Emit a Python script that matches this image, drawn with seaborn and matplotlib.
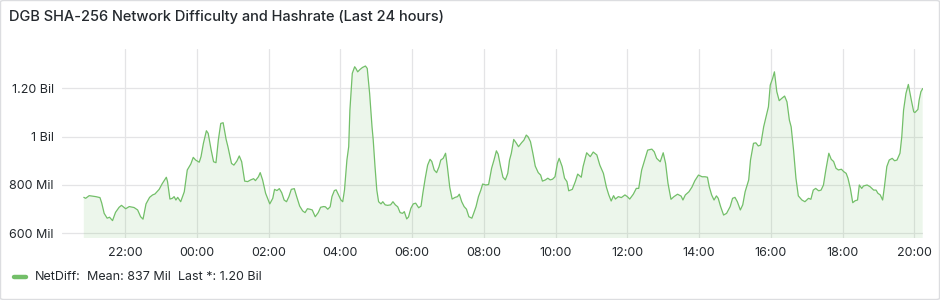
import matplotlib
matplotlib.use("Agg")
import matplotlib.pyplot as plt
import matplotlib.dates as mdates
from matplotlib.patches import FancyBboxPatch
from matplotlib.lines import Line2D
import seaborn as sns
import pandas as pd
import numpy as np

TITLE = "DGB SHA-256 Network Difficulty and Hashrate (Last 24 hours)"
SERIES = "NetDiff"

clock = [
    "20:51", "20:54", "21:00", "21:05", "21:11", "21:18", "21:21", "21:25", "21:30", "21:34",
    "21:39", "21:44", "21:50", "21:54", "22:01", "22:07", "22:15", "22:21", "22:26", "22:30",
    "22:35", "22:41", "22:46", "22:50", "22:57", "23:02", "23:09", "23:11", "23:15", "23:19",
    "23:22", "23:25", "23:28", "23:33", "23:39", "23:44", "23:50", "23:54", "23:58", "00:04",
    "00:07", "00:11", "00:16", "00:19", "00:24", "00:28", "00:32", "00:36", "00:40", "00:44",
    "00:49", "00:52", "00:58", "01:02", "01:07", "01:11", "01:15", "01:20", "01:25", "01:30",
    "01:35", "01:38", "01:43", "01:46", "01:50", "01:55", "02:02", "02:07", "02:10", "02:14",
    "02:18", "02:22", "02:26", "02:30", "02:34", "02:38", "02:43", "02:47", "02:52", "02:57",
    "03:01", "03:05", "03:09", "03:13", "03:18", "03:23", "03:27", "03:32",
    "03:35", "03:39", "03:43", "03:46", "03:50", "03:53", "03:57", "04:01", "04:04", "04:07",
    "04:11", "04:14", "04:16", "04:20", "04:24", "04:26", "04:29", "04:33", "04:37", "04:42",
    "04:45", "04:49", "04:53", "04:55", "04:58", "05:01", "05:04", "05:08", "05:11", "05:15",
    "05:19", "05:24", "05:28", "05:32", "05:36", "05:40", "05:44", "05:47", "05:51", "05:54",
    "05:58", "06:02", "06:06", "06:11", "06:15", "06:18", "06:22", "06:26", "06:30", "06:33",
    "06:37", "06:41", "06:45", "06:48", "06:52",
    "06:56", "06:59", "07:03", "07:07", "07:12", "07:16", "07:19", "07:23", "07:27", "07:31",
    "07:35", "07:40", "07:43", "07:47", "07:51", "07:55", "07:58", "08:03", "08:08", "08:13",
    "08:17", "08:21", "08:24", "08:28", "08:32", "08:36", "08:40", "08:43", "08:46", "08:50",
    "08:54", "08:58", "09:03", "09:07", "09:11", "09:14", "09:18", "09:22", "09:26", "09:31",
    "09:35", "09:38", "09:43", "09:47", "09:51", "09:55", "09:59", "10:03", "10:06", "10:11",
    "10:15", "10:19", "10:22",
    "10:28", "10:33", "10:37", "10:43", "10:46", "10:52", "10:58", "11:03", "11:09", "11:14",
    "11:20", "11:25", "11:29", "11:33", "11:37", "11:40", "11:45", "11:50", "11:56", "12:00",
    "12:04", "12:10", "12:15", "12:19", "12:24", "12:29", "12:34", "12:41", "12:45", "12:49",
    "12:55", "13:00", "13:04", "13:08", "13:13", "13:18", "13:24", "13:30", "13:33", "13:37",
    "13:43", "13:48",
    "13:53", "13:59", "14:05", "14:10", "14:14", "14:17", "14:21", "14:25", "14:29", "14:32",
    "14:36", "14:41", "14:46", "14:52", "14:56", "15:00", "15:04", "15:09", "15:13", "15:17",
    "15:23", "15:26", "15:31", "15:35", "15:39", "15:43", "15:48", "15:52", "15:56", "15:59",
    "16:03", "16:06", "16:10", "16:14", "16:18", "16:23", "16:27", "16:31", "16:34", "16:38",
    "16:42", "16:46", "16:52", "16:57", "17:03", "17:07", "17:11",
    "17:15", "17:20", "17:24", "17:28", "17:32", "17:37", "17:41", "17:45", "17:49", "17:53",
    "17:58", "18:02", "18:06", "18:09", "18:13", "18:17", "18:21", "18:25", "18:28", "18:32",
    "18:35", "18:41", "18:46", "18:52", "18:56", "18:59", "19:03", "19:07", "19:10", "19:14",
    "19:18", "19:23", "19:27", "19:31", "19:36", "19:39", "19:42", "19:46", "19:50", "19:55",
    "19:59", "20:01", "20:06", "20:08", "20:11", "20:14",
]

netdiff_mil = [
    749, 745, 756, 754, 752, 748, 725, 683, 663, 667,
    653, 687, 708, 716, 702, 711, 707, 697, 669, 659,
    722, 749, 759, 763, 782, 805, 832, 814, 742, 745,
    752, 738, 749, 731, 772, 862, 887, 914, 903, 894,
    917, 972, 1024, 1013, 944, 896, 892, 986, 1054, 1057,
    988, 958, 889, 882, 899, 920, 896, 816, 814, 821,
    826, 818, 834, 851, 821, 766, 722, 745, 782, 777,
    785, 768, 738, 731, 752, 782, 785, 752, 713, 693,
    686, 702, 700, 697, 669, 686, 708, 711,
    710, 700, 710, 752, 777, 780, 759, 738, 731, 780,
    903, 958, 1109, 1261, 1288, 1281, 1267, 1277, 1285, 1291,
    1281, 1178, 1040, 986, 876, 779, 731, 722, 731, 718,
    716, 718, 731, 718, 710, 686, 683, 690, 660, 668,
    704, 722, 725, 706, 713, 766, 828, 882, 906, 897,
    862, 851, 875, 903, 910,
    931, 876, 791, 742, 749, 752, 762, 731, 711, 700,
    669, 663, 683, 711, 752, 779, 804, 800, 802, 869,
    903, 941, 927, 876, 832, 821, 848, 903, 931, 988,
    974, 958, 974, 985, 1006, 999, 979, 931, 878, 851,
    841, 816, 821, 828, 821, 824, 834, 889, 910, 876,
    828, 814, 776,
    782, 814, 845, 832, 876, 933, 917, 936, 924, 882,
    848, 791, 759, 734, 756, 742, 752, 748, 759, 752,
    742, 762, 786, 786, 862, 903, 944, 948, 937, 910,
    896, 933, 889, 807, 741, 752, 762, 754, 738, 759,
    772, 791,
    818, 841, 834, 834, 832, 793, 759, 738, 755, 745,
    711, 676, 683, 711, 745, 749, 731, 697, 718, 772,
    821, 903, 972, 974, 961, 965, 1040, 1082, 1123, 1212,
    1240, 1267, 1185, 1148, 1157, 1167, 1143, 1068, 1040, 944,
    828, 755, 738, 731, 745, 741, 779,
    786, 776, 779, 800, 862, 931, 906, 897, 869, 862,
    865, 855, 848, 828, 786, 727, 735, 738, 800, 786,
    796, 800, 793, 779, 779, 766, 759, 738, 793, 876,
    903, 910, 900, 903, 931, 999, 1109, 1178, 1215, 1150,
    1102, 1099, 1112, 1150, 1185, 1198,
]

y_ticks = [600, 800, 1000, 1200]
y_tick_labels = ["600 Mil", "800 Mil", "1 Bil", "1.20 Bil"]
legend_mean = "Mean: 837 Mil"
legend_last = "Last *: 1.20 Bil"

# build timestamps with day rollover
stamps = []
day = pd.Timestamp("2024-01-01")
prev = None
for c in clock:
    t = pd.Timestamp(f"{day.date()} {c}")
    if prev is not None and t < prev:
        day = day + pd.Timedelta(days=1)
        t = pd.Timestamp(f"{day.date()} {c}")
    stamps.append(t)
    prev = t
df = pd.DataFrame({"time": stamps, "value": netdiff_mil})

sns.set_theme(style="white")
plt.rcParams["font.family"] = ["Inter", "DejaVu Sans"]

GREEN = "#73BF69"
TEXT = "#24292E"
GRID = "#E4E4E6"

fig = plt.figure(figsize=(9.4, 3.0), dpi=100)
fig.patch.set_facecolor("white")
border = FancyBboxPatch((0.5 / 940, 0.5 / 300), 1 - 1.0 / 940, 1 - 1.0 / 300,
                        boxstyle="round,pad=0,rounding_size=0.004",
                        transform=fig.transFigure, facecolor="none",
                        edgecolor="#DCDDE0", linewidth=1.0)
fig.patches.append(border)

ax = fig.add_axes([62.3 / 940, 1 - 238.3 / 300, (922.7 - 62.3) / 940, (238.3 - 49.3) / 300])
ax.set_facecolor("white")

sns.lineplot(data=df, x="time", y="value", ax=ax, color=GREEN, linewidth=0.9, zorder=3)
ax.fill_between(df["time"], df["value"], 0, color=GREEN, alpha=0.13, linewidth=0, zorder=2)

ax.set_xlim(pd.Timestamp("2024-01-01 20:15"), pd.Timestamp("2024-01-02 20:14"))
ax.set_ylim(580, 1360)
ax.set_yticks(y_ticks)
ax.set_yticklabels(y_tick_labels)
ax.xaxis.set_major_locator(mdates.HourLocator(byhour=range(0, 24, 2)))
ax.xaxis.set_major_formatter(mdates.DateFormatter("%H:%M"))
ax.set_xlabel("")
ax.set_ylabel("")
for s in ax.spines.values():
    s.set_visible(False)
ax.grid(True, color=GRID, linewidth=0.9, zorder=0)
ax.tick_params(axis="both", length=0, labelsize=9, colors=TEXT)
ax.tick_params(axis="y", pad=6)
ax.tick_params(axis="x", pad=6)

fig.text(9 / 940, 1 - 17 / 300, TITLE, fontsize=10.5, fontweight="medium", color=TEXT,
         va="center", ha="left")

fig.lines.append(Line2D([14 / 940, 26 / 940], [1 - 277 / 300, 1 - 277 / 300],
                        transform=fig.transFigure, color=GREEN, linewidth=3.2,
                        solid_capstyle="round"))
ly = 1 - 276.7 / 300
fig.text(35 / 940, ly, f"{SERIES}:", fontsize=9, color=TEXT, va="center", ha="left")
fig.text(87.3 / 940, ly, legend_mean, fontsize=9, color=TEXT, va="center", ha="left")
fig.text(178.3 / 940, ly, legend_last, fontsize=9, color=TEXT, va="center", ha="left")

fig.savefig("out.png", dpi=100, facecolor="white")
